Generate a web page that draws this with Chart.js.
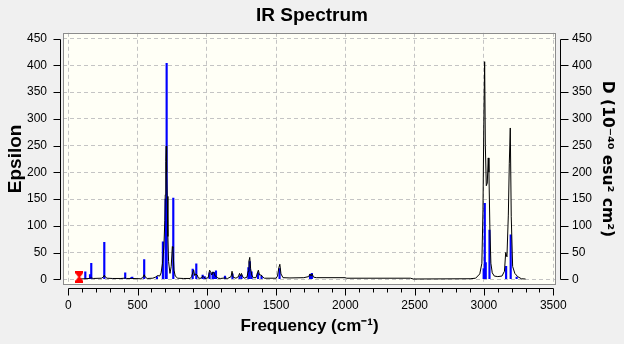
<!DOCTYPE html>
<html>
<head>
<meta charset="utf-8">
<script src="https://cdn.jsdelivr.net/npm/chart.js@4/dist/chart.umd.min.js"></script>
<style>
  html, body { margin: 0; padding: 0; background: #f0f0f0; }
  canvas { display: block; }
</style>
</head>
<body>
<canvas id="ir" width="624" height="344"></canvas>
<script>
// Axis tick values
const xTickValues = [0, 500, 1000, 1500, 2000, 2500, 3000, 3500];
const yTickValues = [0, 50, 100, 150, 200, 250, 300, 350, 400, 450];

// Broadened spectrum (frequency in cm-1, epsilon)
const specFreq = [80, 120, 150, 160, 168, 180, 240, 252, 260, 268, 280, 320, 380, 405, 411, 420, 455, 465, 520, 538,
  548, 556, 570, 610, 630, 645, 660, 670, 680, 690, 697, 700, 704, 707, 710, 714, 719, 724, 734, 743,
  751, 755, 763, 772, 790, 830, 880, 890, 898, 905, 912, 920, 930, 940, 960, 970, 978, 990, 1010, 1020,
  1028, 1035, 1045, 1052, 1060, 1070, 1080, 1100, 1130, 1150, 1175, 1182, 1190, 1210, 1228, 1236, 1242, 1250, 1256, 1270,
  1290, 1298, 1304, 1310, 1316, 1324, 1335, 1355, 1365, 1372, 1380, 1392, 1400, 1415, 1500, 1510, 1520, 1527, 1535, 1550,
  1600, 1700, 1735, 1745, 1752, 1760, 1770, 1790, 2000, 2010, 2470, 2490, 2900, 2940, 2970, 2985, 2993, 2999, 3005, 3010,
  3017, 3024, 3031, 3036, 3043, 3050, 3060, 3075, 3100, 3130, 3148, 3157, 3166, 3176, 3183, 3190, 3197, 3207, 3223, 3243,
  3270, 3300];
const specEps = [0.5, 1, 1.5, 2.5, 2.5, 1.5, 2, 4, 7.5, 4, 2, 1.5, 1.5, 2, 3, 1.5, 1.5, 1.5, 1, 3,
  8.5, 4, 1.5, 2, 4, 7, 6, 12, 30, 60, 110, 158, 220, 249, 200, 155, 80, 33, 11, 24,
  61, 58, 17, 6, 2, 1.5, 1.5, 5, 12, 17.5, 7, 10, 8, 2, 2, 6, 4, 1.5, 3, 17,
  14, 8, 14, 12, 6, 5, 2, 1.5, 2.5, 1.5, 5, 15, 4, 2, 5, 11, 6, 11, 6, 2,
  4, 15, 34, 41, 20, 8, 3, 3, 12, 17, 8, 8, 5, 2, 2, 6, 22, 28, 10, 3,
  2.5, 3, 5, 10, 6, 10, 4, 3, 3, 2, 2, 0.5, 1, 2, 10, 30, 130, 289, 407, 250,
  175, 180, 227, 200, 92, 30, 12, 6, 5, 6, 15, 50, 42, 120, 217, 283, 117, 24, 11, 5,
  1, 0.5];

// Individual transitions (frequency in cm-1, dipole strength D)
const stickFreq = [123, 157, 166, 260, 325, 385, 411, 455, 462, 548, 640, 683, 703, 710, 758,
  898, 924, 970, 985, 1020, 1042, 1053, 1066, 1131, 1185, 1236, 1250, 1300, 1310, 1323,
  1370, 1395, 1525, 1745, 1758, 2998, 3006, 3013, 3040, 3160, 3193, 3236];
const stickD = [14, 9, 30, 69, 1, 2, 12, 3, 4, 37, 5, 70, 150, 404, 152,
  19, 29, 8, 5, 12, 13, 13, 16, 6, 10, 6, 8, 22, 33, 14,
  12, 6, 20, 9, 11, 20, 142, 31, 92, 24, 83, 4];

// Red hourglass marker on the frequency axis
const markerFreq = [79];
const markerLevel = [4.3];

const spectrum = specFreq.map((f, i) => ({ x: f, y: specEps[i] }));
const sticks = stickFreq.map((f, i) => ({ x: f, y: stickD[i] }));
const marker = markerFreq.map((f, i) => ({ x: f, y: markerLevel[i] }));

// Hourglass glyph used as the marker's point style
const hourglass = document.createElement('canvas');
hourglass.width = 8; hourglass.height = 12;
(function () {
  const g = hourglass.getContext('2d');
  g.fillStyle = '#ff0000';
  g.beginPath();
  g.moveTo(0, 0); g.lineTo(8, 0); g.lineTo(8, 2); g.lineTo(5, 6);
  g.lineTo(8, 10); g.lineTo(8, 12); g.lineTo(0, 12); g.lineTo(0, 10);
  g.lineTo(3, 6); g.lineTo(0, 2); g.closePath(); g.fill();
})();

const X_MIN = -38, X_MAX = 3520, Y_MIN = -10.7, Y_MAX = 461;

// Plot background, frame and the detached tick axes
const framePlugin = {
  id: 'frame',
  beforeDraw(chart) {
    const { ctx, chartArea: a } = chart;
    ctx.save();
    ctx.fillStyle = '#fffff6';
    ctx.fillRect(a.left, a.top, a.right - a.left, a.bottom - a.top);
    ctx.restore();
  },
  afterDraw(chart) {
    const { ctx, chartArea: a, scales } = chart;
    const sx = scales.x, sy = scales.y, sy2 = scales.y2;
    const px = v => Math.round(v) + 0.5;
    ctx.save();
    ctx.lineWidth = 1;
    ctx.strokeStyle = '#8c8c8c';
    ctx.strokeRect(px(a.left), px(a.top), Math.round(a.right - a.left) - 1, Math.round(a.bottom - a.top) - 1);

    ctx.strokeStyle = '#000';
    ctx.beginPath();
    // left axis
    const lx = px(a.left - 3);
    ctx.moveTo(lx, px(sy.getPixelForValue(0)));
    ctx.lineTo(lx, px(sy.getPixelForValue(450)));
    yTickValues.forEach(v => {
      const p = px(sy.getPixelForValue(v));
      ctx.moveTo(lx - 7, p); ctx.lineTo(lx, p);
    });
    // right axis
    const rx = px(a.right + 4);
    ctx.moveTo(rx, px(sy2.getPixelForValue(0)));
    ctx.lineTo(rx, px(sy2.getPixelForValue(450)));
    yTickValues.forEach(v => {
      const p = px(sy2.getPixelForValue(v));
      ctx.moveTo(rx, p); ctx.lineTo(rx + 8, p);
    });
    // bottom axis with minor ticks every 100
    const by = px(a.bottom + 3);
    ctx.moveTo(px(sx.getPixelForValue(0)), by);
    ctx.lineTo(px(sx.getPixelForValue(3500)), by);
    for (let v = 0; v <= 3500; v += 100) {
      const p = px(sx.getPixelForValue(v));
      ctx.moveTo(p, by); ctx.lineTo(p, by + (v % 500 === 0 ? 7 : 4));
    }
    ctx.stroke();
    ctx.restore();
  }
};

Chart.defaults.font.family = "'Liberation Sans', Arial, sans-serif";
Chart.defaults.color = '#000';

const gridOpts = { color: '#c4c4c4', lineWidth: 1, drawTicks: false, offset: false };
const tickFont = { size: 12 };
const titleFont = { size: 17, weight: 'bold' };
const plainLabel = v => String(v);

new Chart(document.getElementById('ir'), {
  type: 'bar',
  data: {
    datasets: [
      {
        type: 'scatter', data: marker, pointStyle: hourglass, pointRadius: 6,
        xAxisID: 'x', yAxisID: 'y', order: 0
      },
      {
        type: 'line', data: spectrum, borderColor: '#000', borderWidth: 1,
        pointRadius: 0, tension: 0, fill: false, xAxisID: 'x', yAxisID: 'y', order: 1
      },
      {
        type: 'bar', data: sticks, backgroundColor: '#0000ff', borderWidth: 0,
        barThickness: 1.5, xAxisID: 'x', yAxisID: 'y2', order: 2
      }
    ]
  },
  options: {
    responsive: false,
    animation: false,
    devicePixelRatio: 1,
    layout: { padding: 0 },
    plugins: {
      legend: { display: false },
      tooltip: { enabled: false },
      title: {
        display: true, text: 'IR Spectrum', color: '#000',
        font: { size: 19, weight: 'bold' }, padding: { top: 4, bottom: 6 }
      }
    },
    scales: {
      x: {
        type: 'linear', position: 'bottom', min: X_MIN, max: X_MAX, offset: false,
        afterBuildTicks: s => { s.ticks = xTickValues.map(v => ({ value: v })); },
        afterFit: s => { s.height = 59; },
        grid: gridOpts,
        border: { display: false, dash: [4, 3] },
        ticks: { padding: 13, font: tickFont, maxRotation: 0, autoSkip: false, callback: plainLabel },
        title: { display: true, text: 'Frequency (cm⁻¹)', font: titleFont, padding: { top: 0, bottom: 7 } }
      },
      y: {
        type: 'linear', position: 'left', min: Y_MIN, max: Y_MAX,
        afterBuildTicks: s => { s.ticks = yTickValues.map(v => ({ value: v })); },
        afterFit: s => { s.width = 63; },
        grid: gridOpts,
        border: { display: false, dash: [4, 3] },
        ticks: { padding: 16, font: tickFont, callback: plainLabel },
        title: { display: true, text: 'Epsilon', font: { size: 19, weight: 'bold' }, padding: { top: 4, bottom: 0 } }
      },
      y2: {
        type: 'linear', position: 'right', min: Y_MIN, max: Y_MAX,
        afterBuildTicks: s => { s.ticks = yTickValues.map(v => ({ value: v })); },
        afterFit: s => { s.width = 68; },
        grid: { drawOnChartArea: false, drawTicks: false },
        border: { display: false },
        ticks: { padding: 16, font: tickFont, callback: plainLabel },
        title: {
          display: true, text: 'D (10⁻⁴⁰ esu² cm²)',
          font: { family: "'DejaVu Sans', sans-serif", size: 15.5, weight: 'bold' },
          padding: { top: 8, bottom: 0 }
        }
      }
    }
  },
  plugins: [framePlugin]
});
</script>
</body>
</html>
